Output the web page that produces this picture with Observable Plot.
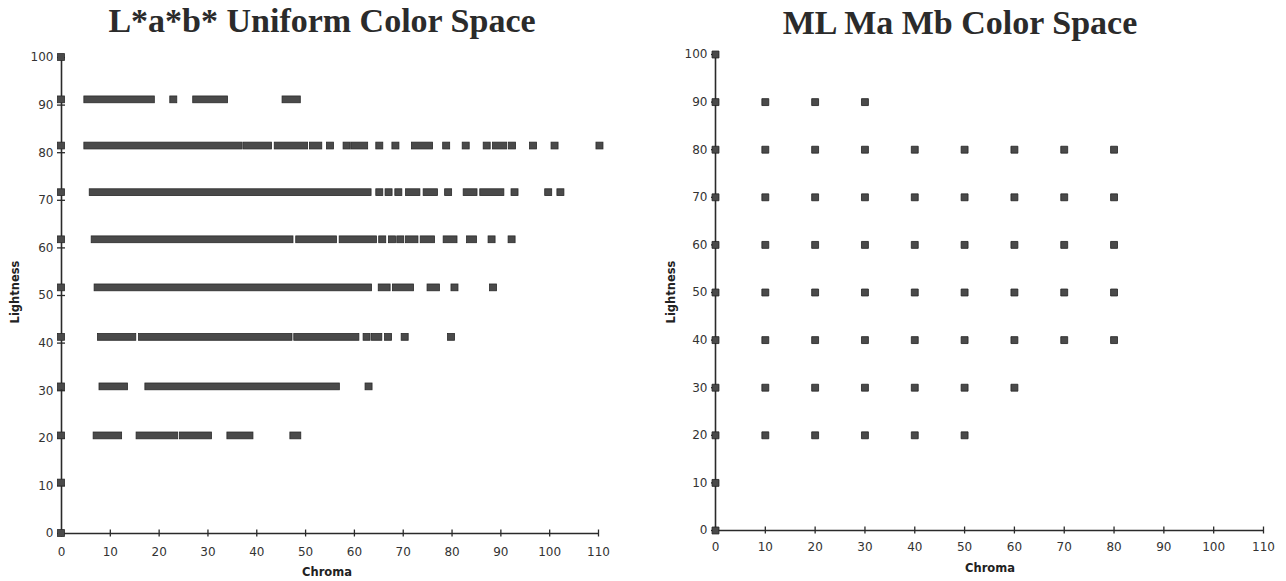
<!DOCTYPE html>
<html><head><meta charset="utf-8">
<script src="https://cdn.jsdelivr.net/npm/d3@7"></script>
<script src="https://cdn.jsdelivr.net/npm/@observablehq/plot@0.6"></script>
<style>
body{margin:0;background:#fff;width:1286px;height:581px;position:relative;overflow:hidden;font-family:"DejaVu Sans",sans-serif}
.title{position:absolute;font-family:"Liberation Serif",serif;font-weight:bold;font-size:34px;line-height:34px;color:#2b2b2b;white-space:nowrap;transform:translateX(-50%)}
.xlab{position:absolute;font-weight:bold;font-size:11.5px;color:#222;transform:translate(-50%,-50%);white-space:nowrap}
.ylab{position:absolute;font-weight:bold;font-size:11.5px;color:#222;transform:translate(-50%,-50%) rotate(-90deg);white-space:nowrap}
.chart{position:absolute;top:45px}
</style></head><body>
<div class="title" style="left:322px;top:4px">L*a*b* Uniform Color Space</div>
<div class="title" style="left:960px;top:6px">ML Ma Mb Color Space</div>
<div id="left" class="chart" style="left:0px"></div>
<div id="right" class="chart" style="left:643px"></div>
<div class="xlab" style="left:327px;top:572px">Chroma</div>
<div class="ylab" style="left:15px;top:292px">Lightness</div>
<div class="xlab" style="left:990px;top:568px">Chroma</div>
<div class="ylab" style="left:671px;top:292px">Lightness</div>
<script>
// Tick labels
const xTicks = [0, 10, 20, 30, 40, 50, 60, 70, 80, 90, 100, 110];
const yTicks = [0, 10, 20, 30, 40, 50, 60, 70, 80, 90, 100];

// L*a*b* chart: lightness levels and runs of chroma samples [first, last]
const labLevels = [100, 91.1, 81.4, 71.6, 61.7, 51.6, 41.2, 30.8, 20.5, 10.6, 0];
const labRuns = [
  [[0, 0]],
  [[0, 0], [5.4, 18.4], [23.0, 23.0], [27.7, 33.4], [46.0, 48.3]],
  [[0, 0], [5.4, 36.4], [38.1, 42.4], [44.4, 49.8], [51.6, 52.7], [55.1, 55.1], [58.5, 58.5], [60.1, 62.1], [65.2, 65.2], [68.5, 68.5], [72.5, 75.4], [78.9, 78.9], [82.9, 82.9], [87.2, 87.2], [89.1, 90.6], [92.4, 92.4], [96.7, 96.7], [101.1, 101.1], [110.3, 110.3]],
  [[0, 0], [6.5, 62.8], [65.2, 65.2], [67.1, 67.1], [69.1, 69.1], [71.3, 72.8], [74.9, 76.4], [79.3, 79.3], [83.1, 84.5], [86.5, 90.0], [92.9, 92.9], [99.8, 99.8], [102.3, 102.3]],
  [[0, 0], [6.9, 46.8], [48.8, 55.7], [57.7, 63.9], [65.8, 65.8], [67.8, 67.8], [69.5, 69.5], [71.3, 72.4], [74.3, 75.8], [79.0, 80.4], [83.8, 84.4], [88.2, 88.2], [92.3, 92.3]],
  [[0, 0], [7.5, 62.9], [65.7, 66.7], [68.6, 71.5], [75.7, 76.8], [80.6, 80.6], [88.5, 88.5]],
  [[0, 0], [8.2, 14.6], [16.6, 46.6], [48.4, 60.3], [62.6, 62.6], [64.3, 65.0], [67.0, 67.0], [70.4, 70.4], [79.9, 79.9]],
  [[0, 0], [8.5, 12.9], [17.9, 56.3], [63.0, 63.0]],
  [[0, 0], [7.3, 11.7], [16.1, 23.2], [25.0, 30.1], [34.7, 38.6], [47.6, 48.4]],
  [[0, 0]],
  [[0, 0]]
];

// ML Ma Mb chart: lightness levels and chroma samples
const mlLevels = [100, 90, 80, 70, 60, 50, 40, 30, 20, 10, 0];
const mlChroma = [
  [0],
  [0, 10, 20, 30],
  [0, 10, 20, 30, 40, 50, 60, 70, 80],
  [0, 10, 20, 30, 40, 50, 60, 70, 80],
  [0, 10, 20, 30, 40, 50, 60, 70, 80],
  [0, 10, 20, 30, 40, 50, 60, 70, 80],
  [0, 10, 20, 30, 40, 50, 60, 70, 80],
  [0, 10, 20, 30, 40, 50, 60],
  [0, 10, 20, 30, 40, 50],
  [0],
  [0]
];

const labRows = labLevels.flatMap((L, i) => labRuns[i].map(([c1, c2]) => ({L, c1, c2})));
const mlPoints = mlLevels.flatMap((L, i) => mlChroma[i].map(c => ({L, c})));

const ink = "#2a2a2a";
function axes(xPad, yPad) {
  return [
    Plot.ruleX([0], {y1: 0, y2: 100, stroke: ink, strokeWidth: 1.6}),
    Plot.ruleY([0], {x1: 0, x2: 110, stroke: ink, strokeWidth: 1.6}),
    Plot.ruleX(xTicks, {x: d => d, y1: 0, y2: 0, insetTop: -3.5, insetBottom: -3.5, stroke: ink, strokeWidth: 1.3}),
    Plot.ruleY(yTicks, {y: d => d, x1: 0, x2: 0, insetLeft: -4, insetRight: -4, stroke: ink, strokeWidth: 1.3}),
    Plot.axisX(xTicks, {tickSize: 0, tickPadding: xPad, label: null, fontSize: 12, fill: "#333"}),
    Plot.axisY(yTicks, {tickSize: 0, tickPadding: yPad, label: null, fontSize: 12, fill: "#333"})
  ];
}

const left = Plot.plot({
  width: 643, height: 536,
  marginLeft: 61, marginRight: 45, marginTop: 12, marginBottom: 48,
  x: {domain: [0, 110]}, y: {domain: [0, 100]},
  style: {background: "transparent", fontFamily: "DejaVu Sans, sans-serif"},
  marks: [
    ...axes(14, 8),
    Plot.rect(labRows, {x1: "c1", x2: "c2", y1: "L", y2: "L", insetLeft: -3.5, insetRight: -3.5, insetTop: -3.4, insetBottom: -3.4, fill: "#4a4a4a", stroke: "#2a2a2a", strokeWidth: 0.8})
  ]
});
document.getElementById("left").append(left);

const right = Plot.plot({
  width: 643, height: 536,
  marginLeft: 72, marginRight: 23, marginTop: 9, marginBottom: 51,
  x: {domain: [0, 110]}, y: {domain: [0, 100]},
  style: {background: "transparent", fontFamily: "DejaVu Sans, sans-serif"},
  marks: [
    ...axes(12, 8),
    Plot.dot(mlPoints, {x: "c", y: "L", symbol: "square", r: 3.9, fill: "#4a4a4a", stroke: "#222", strokeWidth: 0.8})
  ]
});
document.getElementById("right").append(right);
</script>
</body></html>
